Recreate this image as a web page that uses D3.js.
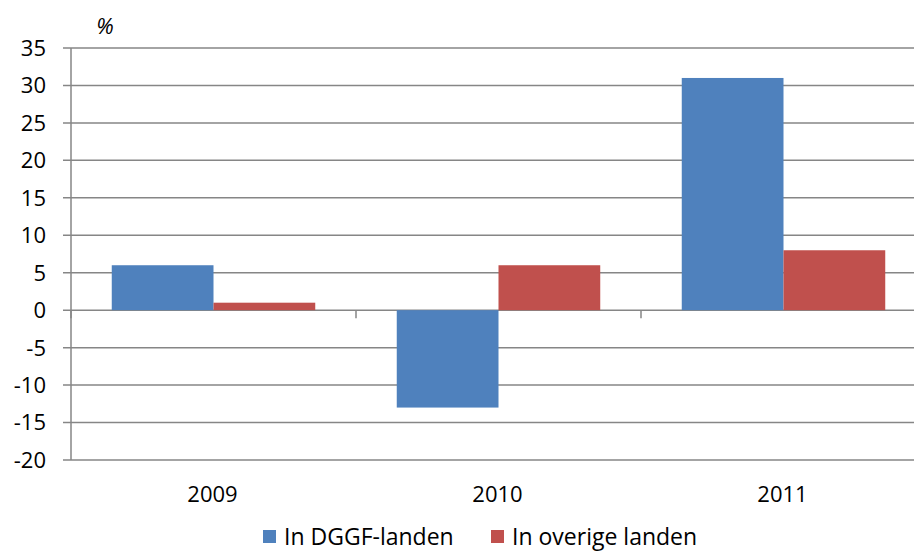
<!DOCTYPE html>
<html>
<head>
<meta charset="utf-8">
<script src="https://cdn.jsdelivr.net/npm/d3@7"></script>
<style>
  body { margin: 0; background: #fff; }
  svg { display: block; font-family: "Open Sans", sans-serif; }
</style>
</head>
<body>
<svg id="chart" width="914" height="552"></svg>
<script>
// Growth per year, in percent
const years = ["2009", "2010", "2011"];
const seriesNames = ["In DGGF-landen", "In overige landen"];
const dggfValues = [6, -13, 31];
const otherValues = [1, 6, 8];
const yTicks = [35, 30, 25, 20, 15, 10, 5, 0, -5, -10, -15, -20];
const colors = ["#4F81BD", "#C0504D"];

const svg = d3.select("#chart");
const margin = { left: 71, top: 48, right: -12, bottom: 92 };
const W = 914, H = 552;
const fontSize = 22;

const x = d3.scaleBand().domain(years)
  .range([margin.left, W - margin.right]).paddingInner(0).paddingOuter(0);
const y = d3.scaleLinear().domain([-20, 35]).range([H - margin.bottom, margin.top]);
// two touching bars per year, centred in the band
const barW = x.bandwidth() * 0.357;
const groupOffset = (x.bandwidth() - 2 * barW) / 2;

const gridColor = "#868686";

// horizontal gridlines
svg.append("g").selectAll("line").data(yTicks).join("line")
  .attr("x1", margin.left - 8).attr("x2", W)
  .attr("y1", d => y(d)).attr("y2", d => y(d))
  .attr("stroke", gridColor).attr("stroke-width", 1.5);

// y axis line
svg.append("line")
  .attr("x1", margin.left).attr("x2", margin.left)
  .attr("y1", y(35)).attr("y2", y(-20))
  .attr("stroke", gridColor).attr("stroke-width", 1.5);

// category ticks on the zero line
const tickXs = [margin.left, ...years.slice(1).map(d => x(d))];
svg.append("g").selectAll("line").data(tickXs).join("line")
  .attr("x1", d => d).attr("x2", d => d)
  .attr("y1", y(0)).attr("y2", y(0) + 8)
  .attr("stroke", gridColor).attr("stroke-width", 1.5);

// y tick labels
svg.append("g").selectAll("text").data(yTicks).join("text")
  .attr("x", 46).attr("y", d => y(d))
  .attr("dy", "0.36em").attr("text-anchor", "end")
  .attr("font-size", fontSize).attr("fill", "#000")
  .text(d => d);

// unit label
svg.append("text").attr("x", 105).attr("y", 34)
  .attr("text-anchor", "middle").attr("font-size", fontSize)
  .attr("font-style", "italic").text("%");

// bars
const series = [dggfValues, otherValues];
series.forEach((vals, si) => {
  svg.append("g").selectAll("rect").data(years).join("rect")
    .attr("x", d => x(d) + groupOffset + si * barW)
    .attr("width", barW)
    .attr("y", (d, i) => y(Math.max(0, vals[i])))
    .attr("height", (d, i) => Math.abs(y(vals[i]) - y(0)))
    .attr("fill", colors[si]);
});

// x labels
svg.append("g").selectAll("text").data(years).join("text")
  .attr("x", d => x(d) + x.bandwidth() / 2 - 1)
  .attr("y", 502).attr("text-anchor", "middle")
  .attr("font-size", fontSize).text(d => d);

// legend
const legendX = [263, 491];
seriesNames.forEach((name, i) => {
  svg.append("rect").attr("x", legendX[i]).attr("y", 530)
    .attr("width", 13).attr("height", 13).attr("fill", colors[i]);
  svg.append("text").attr("x", legendX[i] + 21).attr("y", 545)
    .attr("font-size", 23).text(name);
});
</script>
</body>
</html>
